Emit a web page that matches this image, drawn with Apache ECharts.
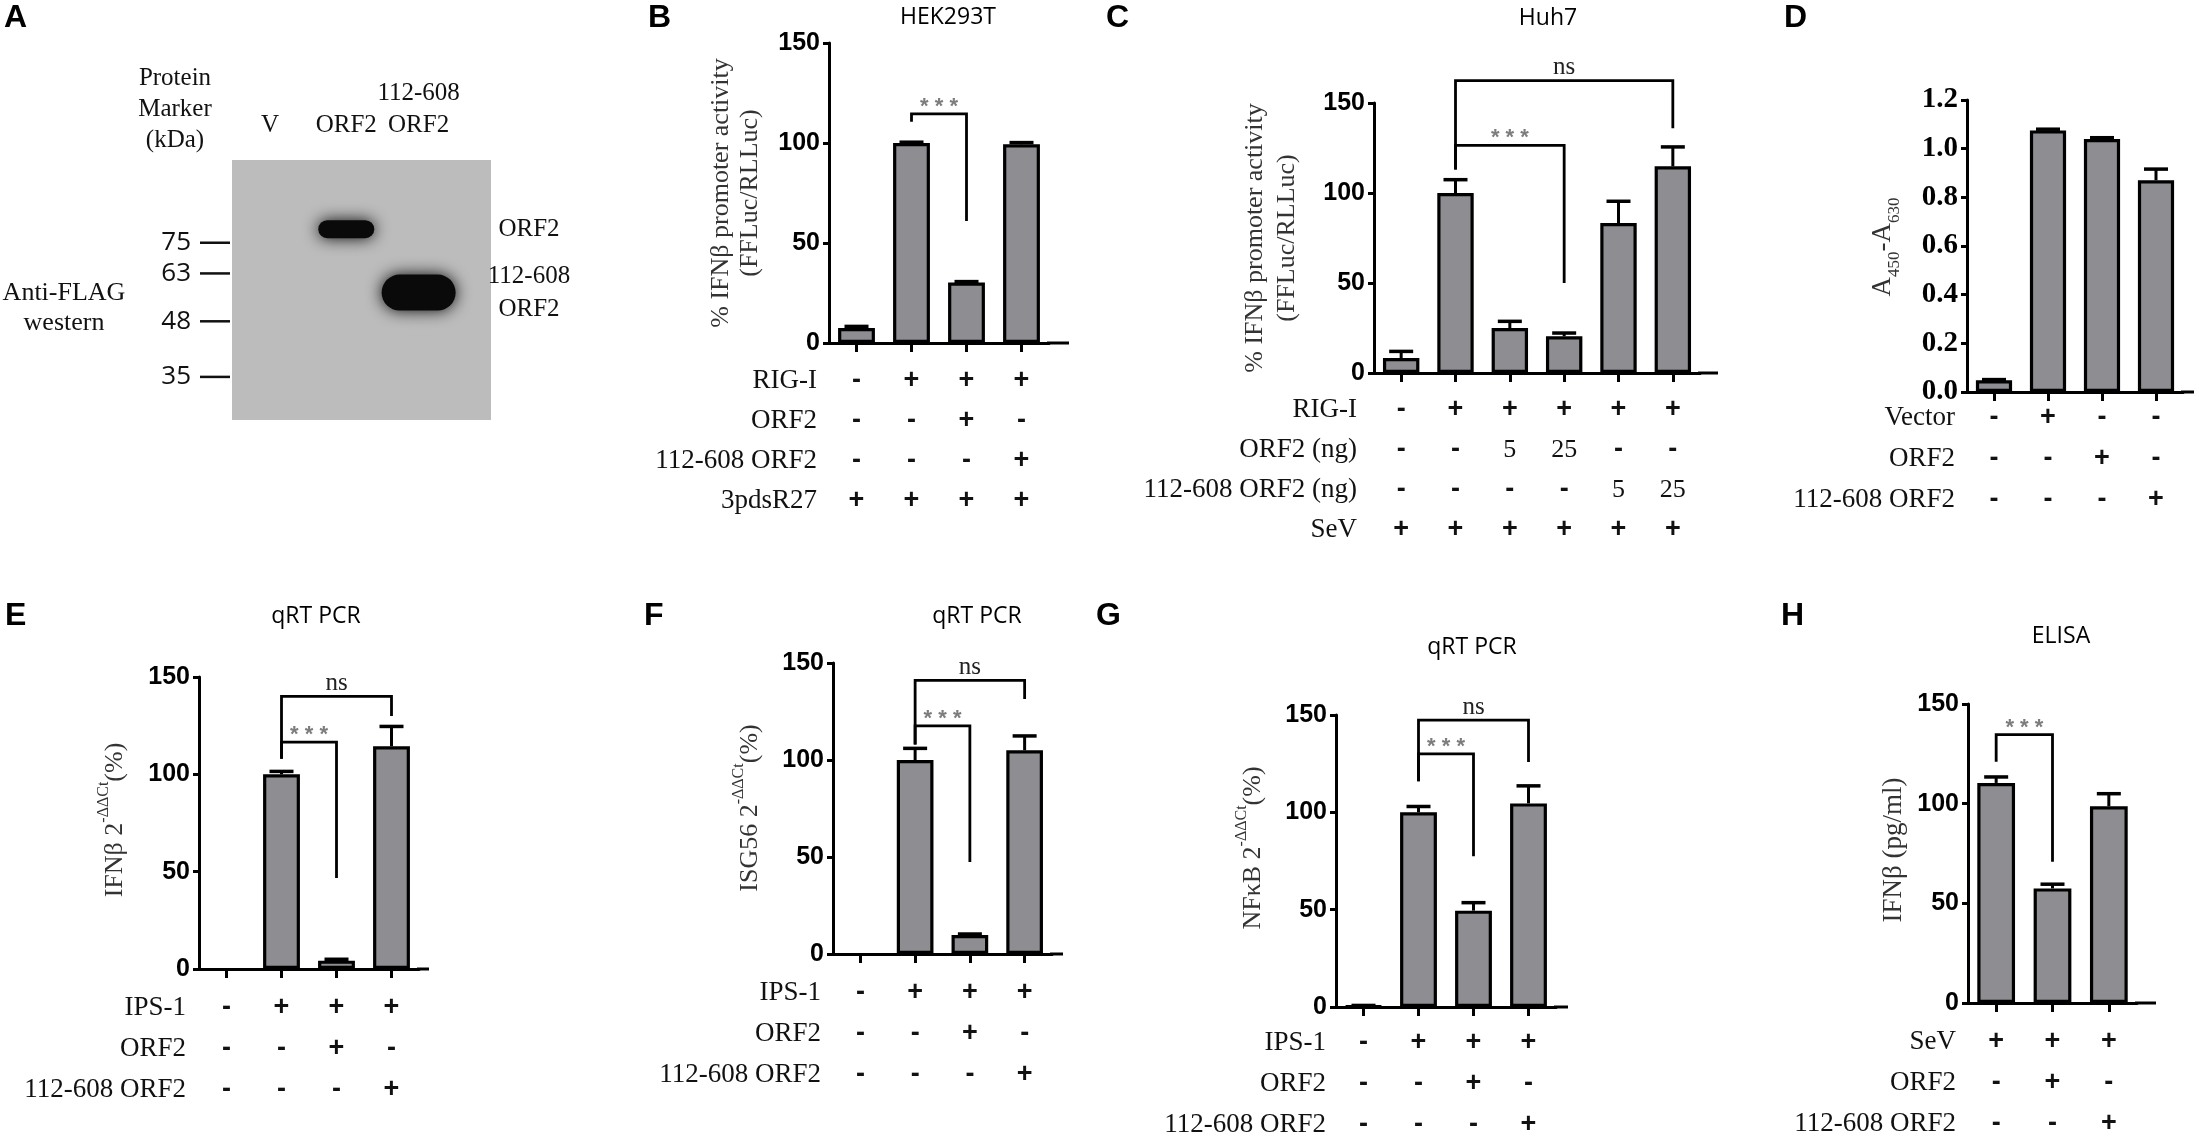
<!DOCTYPE html>
<html lang="en">
<head>
<meta charset="UTF-8">
<title>ORF2 IFN figure</title>
<script src="https://cdn.jsdelivr.net/npm/echarts/dist/echarts.min.js"></script>
<style>
    html, body { margin: 0; padding: 0; background: #fff; }
    #chart { width: 2199px; height: 1144px; }
</style>
</head>
<body>
<div id="chart"></div>
<script>
    // ---------- data ----------
    // A: western blot (kDa)
    var markerKda = [75, 63, 48, 35];
    var blotKdaRange = [27.4, 120];
    var laneNames = ['V', 'ORF2', '112-608\nORF2'];
    var laneX = [0.5, 1.5, 2.45];
    var bandLane = [1, 2];
    var bandKda = [81, 56.5];
    var bandNames = ['ORF2', '112-608\nORF2'];

    // B: HEK293T luciferase
    var bVals = [7.5, 100, 30.2, 99.4];
    var bErr = [0.8, 0.4, 0.5, 0.8];
    var bRows = ['RIG-I', 'ORF2', '112-608 ORF2', '3pdsR27'];
    var bMarks = [['-', '+', '+', '+'], ['-', '-', '+', '-'], ['-', '-', '-', '+'], ['+', '+', '+', '+']];
    var bSig = [[1, 2, 114.6, 110.6, 61, '***']];

    // C: Huh7 luciferase
    var cVals = [8.3, 100, 25, 20.4, 83.3, 114.8];
    var cErr = [3.7, 7.4, 3.7, 1.8, 12.1, 10.8];
    var cRows = ['RIG-I', 'ORF2 (ng)', '112-608 ORF2 (ng)', 'SeV'];
    var cMarks = [['-', '+', '+', '+', '+', '+'], ['-', '-', '5', '25', '-', '-'], ['-', '-', '-', '-', '5', '25'], ['+', '+', '+', '+', '+', '+']];
    var cSig = [[1, 3, 126.5, 113, 50, '***'], [1, 5, 162.4, 113, 136, 'ns']];

    // D: A450-A630
    var dVals = [0.048, 1.075, 1.04, 0.87];
    var dErr = [0.003, 0.005, 0.005, 0.046];
    var dRows = ['Vector', 'ORF2', '112-608 ORF2'];
    var dMarks = [['-', '+', '-', '-'], ['-', '-', '+', '-'], ['-', '-', '-', '+']];

    // E-G: qRT PCR
    var ipsRows = ['IPS-1', 'ORF2', '112-608 ORF2'];
    var ipsMarks = [['-', '+', '+', '+'], ['-', '-', '+', '-'], ['-', '-', '-', '+']];
    var eVals = [null, 100, 4.3, 114.4];
    var eErr = [0, 1.5, 0.7, 10.2];
    var eSig = [[1, 2, 116.5, 108, 46.7, '***'], [1, 3, 140, 108, 130, 'ns']];
    var fVals = [null, 100, 9.8, 105];
    var fErr = [0, 6, 0.5, 7.4];
    var fSig = [[1, 2, 117.6, 108, 47.4, '***'], [1, 3, 141, 108, 131.5, 'ns']];
    var gVals = [0.5, 100, 49.5, 104.6];
    var gErr = [0.3, 3, 4.1, 9];
    var gSig = [[1, 2, 130, 116, 77.5, '***'], [1, 3, 147.4, 116, 125.9, 'ns']];

    // H: ELISA
    var hVals = [110.4, 57.5, 98.7];
    var hErr = [3, 2.1, 6.3];
    var hRows = ['SeV', 'ORF2', '112-608 ORF2'];
    var hMarks = [['+', '+', '+'], ['-', '+', '-'], ['-', '-', '+']];
    var hSig = [[0, 1, 134.6, 121, 70.8, '***']];

    var pctTicks = [0, 150, 50];
    var absTicks = [0, 1.2, 0.2];

    // ---------- styles ----------
    var SANS = '"Liberation Sans", Arial, sans-serif';
    var SERIF = '"Liberation Serif", "Times New Roman", serif';
    var TITLE = '"Open Sans", sans-serif';
    var BAR_FILL = '#8d8d92';
    var BAND_SIZE = [[56, 18], [74, 36]];

    var myChart = echarts.init(document.getElementById('chart'));

    // layout of each bar panel
    var panels = [
        {vals: bVals, err: bErr, rows: bRows, marks: bMarks, sig: bSig, ticks: pctTicks,
            grid: {left: 829, top: 43, width: 220, height: 300}, first: 38, gap: 40, pad: 12, ext: 20},
        {vals: cVals, err: cErr, rows: cRows, marks: cMarks, sig: cSig, ticks: pctTicks,
            grid: {left: 1374, top: 103, width: 326, height: 270}, first: 37, gap: 40, pad: 17, ext: 18},
        {vals: dVals, err: dErr, rows: dRows, marks: dMarks, sig: [], ticks: absTicks, serifTicks: true,
            grid: {left: 1967, top: 100, width: 216, height: 292}, first: 26, gap: 41, pad: 12, ext: 11},
        {vals: eVals, err: eErr, rows: ipsRows, marks: ipsMarks, sig: eSig, ticks: pctTicks,
            grid: {left: 199, top: 677, width: 220, height: 292}, first: 39, gap: 41, pad: 13, ext: 10},
        {vals: fVals, err: fErr, rows: ipsRows, marks: ipsMarks, sig: fSig, ticks: pctTicks,
            grid: {left: 833, top: 663, width: 219, height: 291}, first: 39, gap: 41, pad: 12, ext: 11},
        {vals: gVals, err: gErr, rows: ipsRows, marks: ipsMarks, sig: gSig, ticks: pctTicks,
            grid: {left: 1336, top: 715, width: 220, height: 292}, first: 36, gap: 41, pad: 10, ext: 12},
        {vals: hVals, err: hErr, rows: hRows, marks: hMarks, sig: hSig, ticks: pctTicks,
            grid: {left: 1968, top: 704, width: 169, height: 299}, first: 39, gap: 41, pad: 12, ext: 19}
    ];

    var grids = [{left: 232, top: 160, width: 259, height: 260, show: true, backgroundColor: '#bcbcbc', borderWidth: 0}];
    var xAxes = [{type: 'value', gridIndex: 0, min: 0, max: 3.4, show: false}];
    var yAxes = [{type: 'value', gridIndex: 0, min: Math.log10(blotKdaRange[0]), max: Math.log10(blotKdaRange[1]), show: false}];
    var series = [];

    // ---------- A: blot ----------
    series.push({
        type: 'custom', xAxisIndex: 0, yAxisIndex: 0, clip: false, silent: true,
        data: bandKda.map(function (k, i) { return [laneX[bandLane[i]], Math.log10(k)]; }),
        renderItem: function (params, api) {
            var p = api.coord([api.value(0), api.value(1)]);
            var sz = BAND_SIZE[params.dataIndex];
            var cs = params.coordSys;
            return {
                type: 'group',
                children: [
                    {type: 'rect', shape: {x: p[0] - sz[0] / 2, y: p[1] - sz[1] / 2, width: sz[0], height: sz[1], r: sz[1] / 2},
                        style: {fill: '#0a0a0a', shadowBlur: 16, shadowColor: 'rgba(0,0,0,0.95)'}},
                    {type: 'text', x: cs.x + cs.width + 38, y: p[1],
                        style: {text: bandNames[params.dataIndex], font: '25px ' + SERIF, fill: '#111',
                            align: 'center', verticalAlign: 'middle', lineHeight: 33}}
                ]
            };
        }
    });
    series.push({
        type: 'custom', xAxisIndex: 0, yAxisIndex: 0, clip: false, silent: true,
        data: markerKda.map(function (k) { return [0, Math.log10(k)]; }),
        renderItem: function (params, api) {
            var y = api.coord([0, api.value(1)])[1];
            var cs = params.coordSys;
            return {
                type: 'group',
                children: [
                    {type: 'line', shape: {x1: cs.x - 32, y1: y, x2: cs.x - 2, y2: y}, style: {stroke: '#111', lineWidth: 2.5}},
                    {type: 'text', x: cs.x - 41, y: y,
                        style: {text: String(markerKda[params.dataIndex]), font: '26px ' + TITLE, fill: '#111',
                            align: 'right', verticalAlign: 'middle'}}
                ]
            };
        }
    });
    series.push({
        type: 'custom', xAxisIndex: 0, yAxisIndex: 0, clip: false, silent: true,
        data: laneX.map(function (x) { return [x, Math.log10(blotKdaRange[1])]; }),
        renderItem: function (params, api) {
            var p = api.coord([api.value(0), api.value(1)]);
            return {
                type: 'text', x: p[0], y: p[1] - 19,
                style: {text: laneNames[params.dataIndex], font: '25px ' + SERIF, fill: '#111',
                    align: 'center', verticalAlign: 'bottom', lineHeight: 32}
            };
        }
    });

    // ---------- bar panels ----------
    function errSeries(gi, vals, err) {
        var data = [];
        vals.forEach(function (v, k) { if (v != null) data.push([k, v, err[k]]); });
        return {
            type: 'custom', xAxisIndex: gi, yAxisIndex: gi, z: 3, clip: false, silent: true,
            data: data,
            renderItem: function (params, api) {
                var k = api.value(0), v = api.value(1), e = api.value(2);
                var p0 = api.coord([k, v]), p1 = api.coord([k, v + e]);
                return {
                    type: 'group',
                    children: [
                        {type: 'line', shape: {x1: p0[0], y1: p0[1], x2: p1[0], y2: p1[1]}, style: {stroke: '#000', lineWidth: 3}},
                        {type: 'line', shape: {x1: p1[0] - 12, y1: p1[1], x2: p1[0] + 12, y2: p1[1]}, style: {stroke: '#000', lineWidth: 3.5}}
                    ]
                };
            }
        };
    }

    function sigSeries(gi, sig) {
        return {
            type: 'custom', xAxisIndex: gi, yAxisIndex: gi, z: 4, clip: false, silent: true,
            data: sig.map(function (s) { return [s[0], s[2]]; }),
            renderItem: function (params, api) {
                var s = sig[params.dataIndex];
                var tl = api.coord([s[0], s[2]]), tr = api.coord([s[1], s[2]]);
                var bl = api.coord([s[0], s[3]]), br = api.coord([s[1], s[4]]);
                var stars = s[5] !== 'ns';
                return {
                    type: 'group',
                    children: [
                        {type: 'polyline', shape: {points: [bl, tl, tr, br]}, style: {stroke: '#000', lineWidth: 2.8, fill: null}},
                        {type: 'text', x: (tl[0] + tr[0]) / 2, y: tl[1] - (stars ? 7 : 13),
                            style: {text: stars ? '* * *' : 'ns', fill: stars ? '#7d7d7d' : '#222',
                                font: stars ? 'bold 22px ' + SANS : '25px ' + SERIF,
                                align: 'center', verticalAlign: 'middle'}}
                    ]
                };
            }
        };
    }

    function tableSeries(gi, p) {
        var data = [];
        p.marks.forEach(function (row, r) {
            row.forEach(function (m, c) { data.push([c, 0, r]); });
        });
        return {
            type: 'custom', xAxisIndex: gi, yAxisIndex: gi, clip: false, silent: true,
            data: data,
            renderItem: function (params, api) {
                var c = api.value(0), r = api.value(2);
                var cs = params.coordSys;
                var y = cs.y + cs.height + p.first + r * p.gap;
                var x = api.coord([c, 0])[0];
                var m = p.marks[r][c];
                var sign = (m === '+' || m === '-');
                var kids = [{type: 'text', x: x, y: y,
                    style: {text: m, font: sign ? 'bold 27px ' + SANS : '26px ' + SERIF, fill: '#111',
                        align: 'center', verticalAlign: 'middle'}}];
                if (c === 0) {
                    kids.push({type: 'text', x: cs.x - p.pad, y: y,
                        style: {text: p.rows[r], font: '27px ' + SERIF, fill: '#111', align: 'right', verticalAlign: 'middle'}});
                }
                if (c === 0 && r === 0) {
                    var ay = cs.y + cs.height;
                    kids.push({type: 'line', shape: {x1: cs.x + cs.width - 2, y1: ay, x2: cs.x + cs.width + p.ext, y2: ay},
                        style: {stroke: '#000', lineWidth: 3}});
                }
                return {type: 'group', children: kids};
            }
        };
    }

    panels.forEach(function (p, i) {
        var gi = i + 1;
        grids.push(p.grid);
        xAxes.push({
            type: 'category', gridIndex: gi,
            data: p.vals.map(function (v, k) { return String(k); }),
            axisLine: {show: true, lineStyle: {color: '#000', width: 3}},
            axisTick: {show: true, alignWithLabel: true, length: 9, lineStyle: {color: '#000', width: 3}},
            axisLabel: {show: false},
            splitLine: {show: false}
        });
        yAxes.push({
            type: 'value', gridIndex: gi, min: p.ticks[0], max: p.ticks[1], interval: p.ticks[2],
            splitLine: {show: false},
            axisLine: {show: true, onZero: false, lineStyle: {color: '#000', width: 3}},
            axisTick: {show: true, length: 6, lineStyle: {color: '#000', width: 3}},
            axisLabel: {
                margin: 9, color: '#000', fontWeight: 'bold',
                fontFamily: p.serifTicks ? SERIF : SANS, fontSize: p.serifTicks ? 29 : 25,
                formatter: function (v) { return p.serifTicks ? v.toFixed(1) : String(v); }
            }
        });
        series.push({
            type: 'bar', xAxisIndex: gi, yAxisIndex: gi, data: p.vals, barWidth: '67%', z: 2, silent: true,
            itemStyle: {color: BAR_FILL, borderColor: '#000', borderWidth: 3.2}
        });
        series.push(errSeries(gi, p.vals, p.err));
        if (p.sig.length) series.push(sigSeries(gi, p.sig));
        series.push(tableSeries(gi, p));
    });

    // ---------- texts ----------
    function letter(t, x, y) {
        return {type: 'text', x: x, y: y, style: {text: t, font: 'bold 32px ' + SANS, fill: '#000', verticalAlign: 'middle'}};
    }
    function title(t, x, y) {
        return {type: 'text', x: x, y: y, style: {text: t, font: '23px ' + TITLE, fill: '#000', align: 'center', verticalAlign: 'middle'}};
    }
    function vTitle(x, y, style) {
        style.align = 'center';
        style.verticalAlign = 'middle';
        if (!style.fill) style.fill = '#333';
        return {type: 'text', x: x, y: y, rotation: Math.PI / 2, style: style};
    }
    var supRich = {
        m: {fontFamily: SERIF, fontSize: 26, lineHeight: 32, verticalAlign: 'bottom', fill: '#333'},
        s: {fontFamily: SERIF, fontSize: 16, lineHeight: 16, verticalAlign: 'top', fill: '#333'}
    };
    var subRich = {
        m: {fontFamily: SERIF, fontSize: 27, lineHeight: 34, verticalAlign: 'top', fill: '#333'},
        s: {fontFamily: SERIF, fontSize: 17, lineHeight: 17, verticalAlign: 'bottom', fill: '#333'}
    };

    var graphics = [
        letter('A', 4, 18), letter('B', 648, 18), letter('C', 1106, 18), letter('D', 1784, 18),
        letter('E', 5, 616), letter('F', 644, 616), letter('G', 1096, 616), letter('H', 1781, 616),
        title('HEK293T', 948, 17), title('Huh7', 1548, 18),
        title('qRT PCR', 316, 616), title('qRT PCR', 977, 616), title('qRT PCR', 1472, 647), title('ELISA', 2061, 636),
        {type: 'text', x: 175, y: 109, style: {text: 'Protein\nMarker\n(kDa)', font: '25px ' + SERIF, fill: '#111',
            align: 'center', verticalAlign: 'middle', lineHeight: 31}},
        {type: 'text', x: 64, y: 308, style: {text: 'Anti-FLAG\nwestern', font: '26px ' + SERIF, fill: '#111',
            align: 'center', verticalAlign: 'middle', lineHeight: 30}},
        vTitle(736, 193, {text: '% IFNβ promoter activity\n(FFLuc/RLLuc)', font: '26px ' + SERIF, lineHeight: 29}),
        vTitle(1271, 238, {text: '% IFNβ promoter activity\n(FFLuc/RLLuc)', font: '26px ' + SERIF, lineHeight: 32}),
        vTitle(1886, 247, {text: '{m|A}{s|450}{m|-A}{s|630}', rich: subRich}),
        vTitle(112, 820, {text: '{m|IFNβ 2}{s|-ΔΔCt}{m|(%)}', rich: supRich}),
        vTitle(747, 808, {text: '{m|ISG56 2}{s|-ΔΔCt}{m|(%)}', rich: supRich}),
        vTitle(1250, 848, {text: '{m|NFκB 2}{s|-ΔΔCt}{m|(%)}', rich: supRich}),
        vTitle(1894, 850, {text: 'IFNβ (pg/ml)', font: '27px ' + SERIF})
    ];

    var option = {
        animation: false,
        backgroundColor: '#fff',
        graphic: graphics,
        grid: grids,
        xAxis: xAxes,
        yAxis: yAxes,
        series: series
    };

    myChart.setOption(option);
</script>
</body>
</html>
